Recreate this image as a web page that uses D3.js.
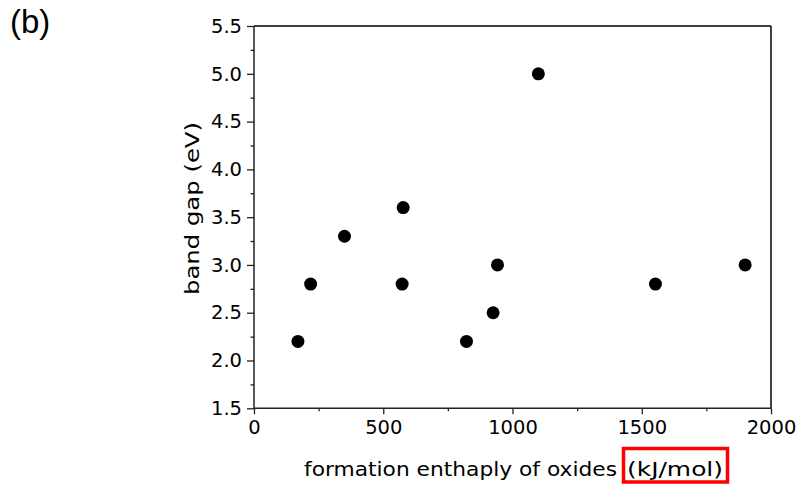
<!DOCTYPE html>
<html><head><meta charset="utf-8">
<script src="https://cdn.jsdelivr.net/npm/d3@7"></script>
<style>body{margin:0;background:#fff}svg{display:block}</style>
</head><body>
<script>
const enthalpy = [170, 219, 350, 577, 573, 822, 925, 942, 1100, 1553, 1900];
const bandGap  = [2.2, 2.8, 3.3, 3.6, 2.8, 2.2, 2.5, 3.0, 5.0, 2.8, 3.0];
const xTicks = [0, 500, 1000, 1500, 2000];
const yTicks = [1.5, 2.0, 2.5, 3.0, 3.5, 4.0, 4.5, 5.0, 5.5];
const xMinor = [250, 750, 1250, 1750];
const yMinor = [1.75, 2.25, 2.75, 3.25, 3.75, 4.25, 4.75, 5.25];
const xLabel = "formation enthaply of oxides";
const xUnit = "(kJ/mol)";
const yLabel = "band gap (eV)";
const panel = "(b)";

const W = 797, H = 486;
const svg = d3.select("body").append("svg").attr("width", W).attr("height", H);
const L = 254, R = 771, T = 26, B = 408.3;
const x = d3.scaleLinear().domain([0, 2000]).range([L, R]);
const y = d3.scaleLinear().domain([1.5, 5.5]).range([B, T]);
const font = "'DejaVu Sans', sans-serif";

// frame top/right
svg.append("line").attr("x1", L).attr("x2", R).attr("y1", T).attr("y2", T).attr("stroke", "#000").attr("stroke-width", 1.5);
svg.append("line").attr("x1", R).attr("x2", R).attr("y1", T).attr("y2", B).attr("stroke", "#000").attr("stroke-width", 1.5);

// x axis
const gx = svg.append("g").attr("transform", `translate(0,${B})`)
  .call(d3.axisBottom(x).tickValues(xTicks).tickSize(6).tickPadding(6).tickFormat(d3.format("d")));
svg.append("g").attr("transform", `translate(0,${B})`)
  .call(d3.axisBottom(x).tickValues(xMinor).tickSize(3).tickFormat(""))
  .call(g => g.select(".domain").remove());
// y axis
const gy = svg.append("g").attr("transform", `translate(${L},0)`)
  .call(d3.axisLeft(y).tickValues(yTicks).tickSize(7).tickPadding(5).tickFormat(d3.format(".1f")));
svg.append("g").attr("transform", `translate(${L},0)`)
  .call(d3.axisLeft(y).tickValues(yMinor).tickSize(3.5).tickFormat(""))
  .call(g => g.select(".domain").remove());

svg.selectAll(".domain").attr("stroke", "#222").attr("stroke-width", 1.5);
svg.selectAll(".tick line").attr("stroke", "#222").attr("stroke-width", 1.3);
svg.selectAll(".tick text").attr("font-family", font).attr("font-size", 19.5).attr("fill", "#000");
gx.selectAll(".domain").attr("d", `M${L},0H${R}`);
gy.selectAll(".domain").attr("d", `M0,${B}V${T}`);

// points
svg.append("g").selectAll("circle").data(enthalpy.map((v, i) => [v, bandGap[i]]))
  .join("circle").attr("cx", d => x(d[0])).attr("cy", d => y(d[1])).attr("r", 6.5).attr("fill", "#000");

// axis labels
svg.append("text").attr("x", 304).attr("y", 476).attr("textLength", 313).attr("lengthAdjust", "spacingAndGlyphs")
  .attr("font-family", font).attr("font-size", 19).attr("fill", "#000").text(xLabel);
svg.append("text").attr("x", 627).attr("y", 476).attr("textLength", 96).attr("lengthAdjust", "spacingAndGlyphs")
  .attr("font-family", font).attr("font-size", 19).attr("fill", "#000").text(xUnit);

svg.append("text").attr("transform", "translate(199,295) rotate(-90)")
  .attr("textLength", 173).attr("lengthAdjust", "spacingAndGlyphs")
  .attr("font-family", font).attr("font-size", 19).attr("fill", "#000").text(yLabel);

// red box around unit
svg.append("rect").attr("x", 623.5).attr("y", 448.5).attr("width", 104).attr("height", 33.5)
  .attr("fill", "none").attr("stroke", "#ff0000").attr("stroke-width", 3.5);

svg.append("text").attr("x", 10).attr("y", 33).attr("font-family", "'Liberation Sans', Arial, sans-serif")
  .attr("font-size", 33).attr("fill", "#000").text(panel);
</script>
</body></html>
